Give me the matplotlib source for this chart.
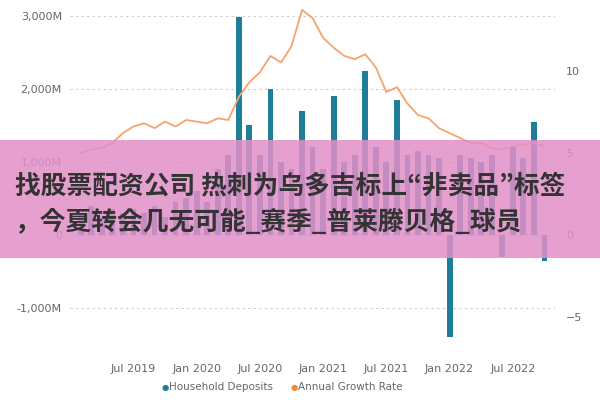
import matplotlib
matplotlib.use("Agg")
import matplotlib.pyplot as plt
from matplotlib.patches import Rectangle

# month index: 0 = Jul 2019
months = list(range(-5, 40))
deposits = [300, 400, 250, 350, 300,
            350, 300, 400, 250, 450, 500,
            600, 450, 900, 1100, 2980, 1500,
            1100, 2000, 1000, 900, 1700, 1200,
            900, 1900, 1000, 1100, 2250, 1200,
            1000, 1850, 1100, 1150, 1100, 1050,
            -1400, 1100, 1050, 1000, 1100, -300, 1200, 1050, 1550, -350]
growth = [5.0, 5.2, 5.3, 5.6, 6.2,
          6.6, 6.8, 6.5, 6.9, 6.6, 7.0,
          6.9, 6.8, 7.1, 7.0, 8.4, 9.3,
          9.9, 10.9, 10.5, 11.5, 13.7, 13.2,
          12.0, 11.4, 10.9, 10.7, 11.0, 10.2,
          8.7, 9.0, 8.0, 7.3, 7.1, 6.5,
          6.2, 5.9, 5.6, 5.6, 5.3, 5.2, 5.4, 5.5, 5.6, 5.4]
tick_pos = [0, 6, 12, 18, 24, 30, 36]
tick_labels = ["Jul 2019", "Jan 2020", "Jul 2020", "Jan 2021", "Jul 2021", "Jan 2022", "Jul 2022"]
left_ticks = [-1000, 0, 1000, 2000, 3000]
left_labels = ["-1,000M", "0", "1,000M", "2,000M", "3,000M"]
right_ticks = [-5, 0, 5, 10]
title_lines = ["找股票配资公司 热刺为乌多吉标上“非卖品”标签",
               "，今夏转会几无可能_赛季_普莱滕贝格_球员"]

bar_col = "#1F7F99"
line_col = "#F4A46E"
grey = "#666666"
cjk = ["Noto Sans CJK SC", "Noto Sans CJK JP", "Noto Sans CJK TC", "Noto Sans CJK KR", "DejaVu Sans"]

fig = plt.figure(figsize=(6, 4), dpi=100)
ax = fig.add_axes([0.117, 0.1375, 0.808, 0.85])
ax.bar(months, deposits, width=0.55, color=bar_col, zorder=2)
ax.set_ylim(-1507, 3150)
ax.set_xlim(-6, 40)
ax.set_yticks(left_ticks)
ax.set_yticklabels(left_labels)
ax.grid(axis="y", linestyle=(0, (2, 3)), color="#cccccc", linewidth=0.8, zorder=0)
ax.set_xticks(tick_pos)
ax.set_xticklabels(tick_labels)
ax.tick_params(length=0, colors=grey, labelsize=8, pad=6)
ax.tick_params(axis="x", pad=14)
for s in ax.spines.values():
    s.set_visible(False)

ax2 = ax.twinx()
ax2.plot(months, growth, color=line_col, linewidth=1.3, zorder=3)
ax2.set_ylim(-6.7, 14.0)
ax2.set_yticks(right_ticks)
ax2.tick_params(length=0, colors=grey, labelsize=8, pad=8)
for s in ax2.spines.values():
    s.set_visible(False)

# legend
fig.text(0.27, 0.032, "\u25cf", color=bar_col, fontsize=6, va="center")
fig.text(0.282, 0.032, "Household Deposits", color=grey, fontsize=7.5, va="center")
fig.text(0.485, 0.032, "\u25cf", color="#F28A3C", fontsize=6, va="center")
fig.text(0.497, 0.032, "Annual Growth Rate", color=grey, fontsize=7.5, va="center")

# overlay banner
fig.patches.append(Rectangle((0, 1 - 258 / 400), 1, 118 / 400, transform=fig.transFigure,
                             facecolor="#E28FC8", alpha=0.85, zorder=10))
for i, line in enumerate(title_lines):
    fig.text(0.025, 1 - (186 + 37 * i) / 400, line,
             ha="left", va="center", fontsize=18.5, fontweight="bold", color="#333333",
             family=cjk, zorder=11)

fig.savefig("out.png", dpi=100)
